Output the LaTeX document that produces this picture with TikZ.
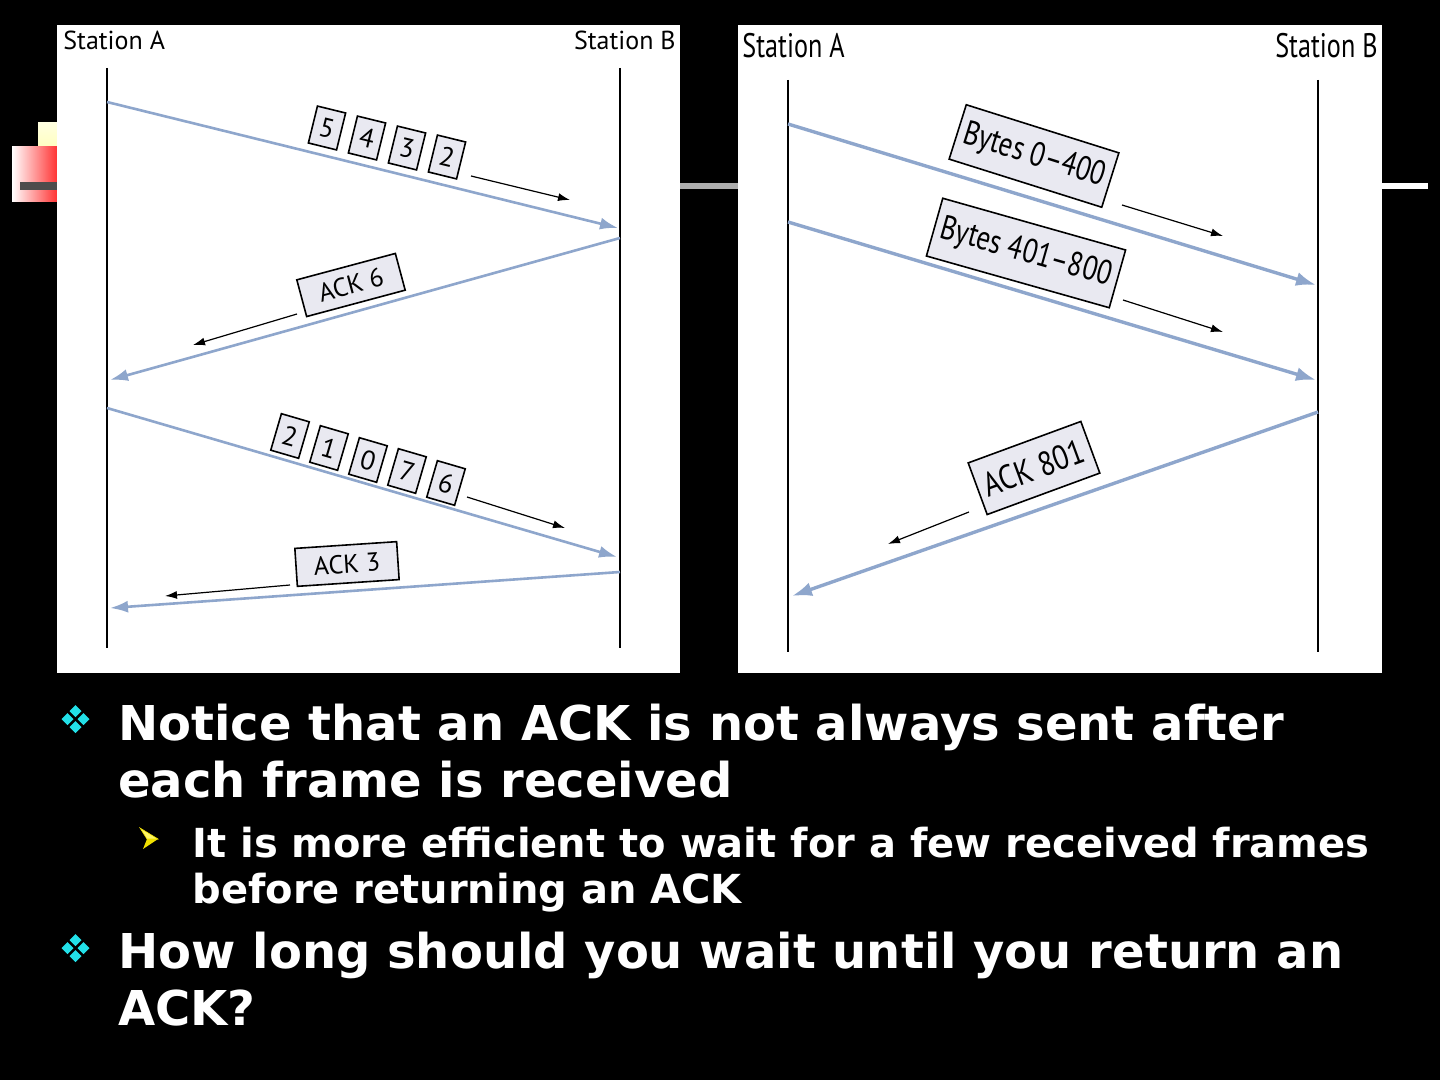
\documentclass[tikz,border=0pt]{standalone}
\usepackage{fontspec}
\setmainfont{DejaVu Sans}
\newfontfamily\diag{PT Sans}
\usepackage{graphicx}
\usetikzlibrary{arrows.meta}
\definecolor{lineblue}{HTML}{8EA6CC}
\definecolor{boxfill}{HTML}{E9E9F1}
\definecolor{cyanb}{HTML}{22E0E8}
\definecolor{yelb}{HTML}{F0E000}
\begin{document}
\begin{tikzpicture}[x=0.5pt,y=-0.5pt,
  lifeline/.style={line width=1.2pt, black},
  lifelineR/.style={line width=1.3pt, black},
  msg/.style={line width=1.3pt, lineblue, -{Latex[length=9pt,width=6pt]}},
  msgR/.style={line width=1.7pt, lineblue, -{Latex[length=10pt,width=7pt]}},
  hint/.style={line width=0.6pt, black, -{Latex[length=6pt,width=4pt]}},
  frm/.style={draw=black, fill=boxfill, line width=0.8pt, inner sep=0pt,
     font=\diag\fontsize{13.5}{13.5}\selectfont, minimum width=14.5pt, minimum height=19pt},
  ackbox/.style={draw=black, fill=boxfill, line width=0.8pt, inner sep=0pt,
     font=\diag\fontsize{13}{13}\selectfont, minimum width=51pt, minimum height=19pt},
  bigbox/.style={draw=black, fill=boxfill, line width=0.8pt, inner sep=0pt,
     font=\diag\fontsize{17}{17}\selectfont},
  stA/.style={font=\diag\fontsize{13}{13}\selectfont, inner sep=0pt},
  stR/.style={font=\diag\fontsize{17}{17}\selectfont, inner sep=0pt},
  main/.style={text=white, font=\bfseries\fontsize{24}{24}\selectfont, inner sep=0pt, anchor=base west},
  sub/.style={text=white, font=\bfseries\fontsize{20}{20}\selectfont, inner sep=0pt, anchor=base west},
  dia/.style={fill=cyanb}
]
% background
\fill[black] (0,0) rectangle (1440,1080);
\useasboundingbox (0,0) rectangle (1440,1080);

% decoration behind panels
\shade[top color=yellow!12, bottom color=yellow!25] (38,123) rectangle (60,148);
\shade[shading angle=45, left color=white, right color=red!85] (12,147) rectangle (60,202);
\fill[black!70] (20,182) rectangle (60,190);
\fill[black!32] (678,183) rectangle (740,189);
\fill[white] (1380,183) rectangle (1428,189);

% panels
\fill[white] (57,25) rectangle (680,673);
\fill[white] (738,25) rectangle (1382,673);

% ---------- left diagram ----------
\node[stA, anchor=base west] (lA) at (63,50) {Station A};
\node[stA, anchor=base east] (lB) at (676,50) {Station B};
\coordinate (LAt) at (107,68);  \coordinate (LAb) at (107,648);
\coordinate (LBt) at (620,68);  \coordinate (LBb) at (620,648);
\draw[lifeline] (LAt) -- (LAb);
\draw[lifeline] (LBt) -- (LBb);

\coordinate (m1s) at (107,102); \coordinate (m1e) at (618,228);
\coordinate (m2s) at (620,238); \coordinate (m2e) at (110,380);
\coordinate (m3s) at (107,408); \coordinate (m3e) at (617,557);
\coordinate (m4s) at (620,572); \coordinate (m4e) at (110,608);
\draw[msg] (m1s) -- (m1e);
\draw[msg] (m2s) -- (m2e);
\draw[msg] (m3s) -- (m3e);
\draw[msg] (m4s) -- (m4e);

% frames 5 4 3 2
\node[frm, rotate=-13.8] (f5) at (327,128) {5};
\node[frm, rotate=-13.8] (f4) at (367,138) {4};
\node[frm, rotate=-13.8] (f3) at (407,148) {3};
\node[frm, rotate=-13.8] (f2) at (447,157) {2};
\coordinate (h1s) at (471,176); \coordinate (h1e) at (570,200);
\draw[hint] (h1s) -- (h1e);

% ACK 6
\node[ackbox, rotate=15] (ack6) at (351,285) {ACK 6};
\coordinate (h2s) at (297,314); \coordinate (h2e) at (193,345);
\draw[hint] (h2s) -- (h2e);

% frames 2 1 0 7 6
\node[frm, rotate=-16.3] (g2) at (290,436) {2};
\node[frm, rotate=-16.3] (g1) at (329,448) {1};
\node[frm, rotate=-16.3] (g0) at (368,460) {0};
\node[frm, rotate=-16.3] (g7) at (407,471) {7};
\node[frm, rotate=-16.3] (g6) at (446,483) {6};
\coordinate (h3s) at (467,497); \coordinate (h3e) at (565,528);
\draw[hint] (h3s) -- (h3e);

% ACK 3
\node[ackbox, rotate=3.8] (ack3) at (347,564) {ACK 3};
\coordinate (h4s) at (290,585); \coordinate (h4e) at (165,596);
\draw[hint] (h4s) -- (h4e);

% ---------- right diagram ----------
\node[stR, anchor=base west] (rA) at (742,58) {\scalebox{0.77}[1]{Station A}};
\node[stR, anchor=base east] (rB) at (1378,58) {\scalebox{0.77}[1]{Station B}};
\coordinate (RAt) at (788,80);  \coordinate (RAb) at (788,652);
\coordinate (RBt) at (1318,80); \coordinate (RBb) at (1318,652);
\draw[lifelineR] (RAt) -- (RAb);
\draw[lifelineR] (RBt) -- (RBb);

\coordinate (r1s) at (788,124);  \coordinate (r1e) at (1316,285);
\coordinate (r2s) at (788,222);  \coordinate (r2e) at (1316,380);
\coordinate (r3s) at (1318,412); \coordinate (r3e) at (792,596);
\draw[msgR] (r1s) -- (r1e);
\draw[msgR] (r2s) -- (r2e);
\draw[msgR] (r3s) -- (r3e);

\node[bigbox, rotate=-17.5, minimum width=80pt, minimum height=28.5pt] (b1) at (1034,156)
  {\scalebox{0.8}[1]{Bytes 0–400}};
\coordinate (k1s) at (1122,205); \coordinate (k1e) at (1223,236);
\draw[hint] (k1s) -- (k1e);

\node[bigbox, rotate=-15.8, minimum width=95pt, minimum height=30pt] (b2) at (1026,253)
  {\scalebox{0.8}[1]{Bytes 401–800}};
\coordinate (k2s) at (1123,300); \coordinate (k2e) at (1223,332);
\draw[hint] (k2s) -- (k2e);

\node[bigbox, rotate=20.2, minimum width=60pt, minimum height=27.5pt] (b3) at (1034,468)
  {\scalebox{0.85}[1]{ACK 801}};
\coordinate (k3s) at (969,512); \coordinate (k3e) at (888,544);
\draw[hint] (k3s) -- (k3e);

% ---------- bullets ----------
\foreach \cy in {719,948}{
  \fill[dia] (75.5,\cy-14) -- ++(6,6) -- ++(-6,6) -- ++(-6,-6) -- cycle;
  \fill[dia] (75.5,\cy+2) -- ++(6,6) -- ++(-6,6) -- ++(-6,-6) -- cycle;
  \fill[dia] (67.5,\cy-6) -- ++(6,6) -- ++(-6,6) -- ++(-6,-6) -- cycle;
  \fill[dia] (83.5,\cy-6) -- ++(6,6) -- ++(-6,6) -- ++(-6,-6) -- cycle;
}
\fill[yellow!60, draw=yelb, line width=0.3pt] (140,828) -- (158,839) -- (147,839) -- cycle;
\fill[yelb] (147,839) -- (158,839) -- (143,849) -- cycle;

\node[main] (t1) at (118,740) {Notice that an ACK is not always sent after};
\node[main] (t2) at (118,797) {each frame is received};
\node[sub] (s1) at (192,857) {It is more efficient to wait for a few received frames};
\node[sub] (s2) at (192,903) {before returning an ACK};
\node[main] (t3) at (118,968) {How long should you wait until you return an};
\node[main] (t4) at (118,1025) {ACK?};
\end{tikzpicture}
\end{document}
